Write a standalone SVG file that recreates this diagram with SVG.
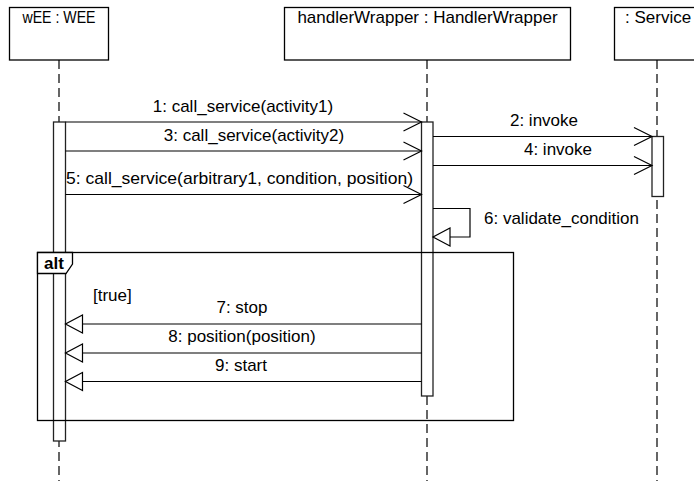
<svg xmlns="http://www.w3.org/2000/svg" width="694" height="481" viewBox="0 0 694 481">
<style>
.box{fill:#fff;stroke:#000;stroke-width:1.3}
.life{stroke:#000;stroke-width:1.2;stroke-dasharray:9 5;fill:none}
.act{fill:#fff;stroke:#222;stroke-width:1.3}
.msg{stroke:#000;stroke-width:1.2;fill:none}
.call{marker-end:url(#open)}
.ret{marker-end:url(#tri)}
text{font-family:"Liberation Sans",Arial,sans-serif;font-size:17px;fill:#000}
.c{text-anchor:middle}
.b{font-weight:bold}
</style>
<defs>
<marker id="open" markerUnits="userSpaceOnUse" markerWidth="20" markerHeight="20" refX="18" refY="9" orient="auto" overflow="visible">
<path d="M0,0 L18,9 L0,18" fill="none" stroke="#000" stroke-width="1.2"/>
</marker>
<marker id="tri" markerUnits="userSpaceOnUse" markerWidth="20" markerHeight="20" refX="17" refY="9" orient="auto" overflow="visible">
<polygon points="0,0 17,9 0,18" fill="#fff" stroke="#000" stroke-width="1.2"/>
</marker>
</defs>

<g id="wEE">
<rect class="box" x="9.5" y="7.5" width="99" height="52.5"/>
<text x="59" y="23" class="c" textLength="73" lengthAdjust="spacingAndGlyphs">wEE : WEE</text>
<line class="life" x1="59" y1="60" x2="59" y2="481"/>
<rect class="act" x="53.5" y="122" width="12" height="319"/>
</g>

<g id="handlerWrapper">
<rect class="box" x="284.5" y="7.5" width="286" height="52.5"/>
<text x="427.5" y="23" class="c">handlerWrapper : HandlerWrapper</text>
<line class="life" x1="427" y1="60" x2="427" y2="481"/>
<rect class="act" x="421.5" y="122" width="11.5" height="274"/>
</g>

<g id="Service">
<rect class="box" x="614.5" y="7.5" width="90" height="52.5"/>
<text x="625" y="23">: Service</text>
<line class="life" x1="657" y1="60" x2="657" y2="481"/>
<rect class="act" x="652" y="136.5" width="11.5" height="60"/>
</g>

<g id="connectors">
<line class="msg call" x1="65.5" y1="122" x2="421.5" y2="122"/>
<text x="243" y="112" class="c">1: call_service(activity1)</text>
<line class="msg call" x1="65.5" y1="151" x2="421.5" y2="151"/>
<text x="254" y="140.5" class="c">3: call_service(activity2)</text>
<line class="msg call" x1="65.5" y1="194.5" x2="421.5" y2="194.5"/>
<text x="66" y="183.5" textLength="347" lengthAdjust="spacingAndGlyphs">5: call_service(arbitrary1, condition, position)</text>
<line class="msg call" x1="433" y1="136.5" x2="652" y2="136.5"/>
<text x="544" y="126" class="c">2: invoke</text>
<line class="msg call" x1="433" y1="165.5" x2="652" y2="165.5"/>
<text x="558" y="154.5" class="c">4: invoke</text>
<path class="msg ret" d="M433,208.5 H470 V237 H433"/>
<text x="484" y="224">6: validate_condition</text>
<line class="msg ret" x1="421.5" y1="324" x2="65.5" y2="324"/>
<text x="242" y="313" class="c">7: stop</text>
<line class="msg ret" x1="421.5" y1="353" x2="65.5" y2="353"/>
<text x="242" y="342" class="c">8: position(position)</text>
<line class="msg ret" x1="421.5" y1="381.5" x2="65.5" y2="381.5"/>
<text x="241" y="371" class="c">9: start</text>
</g>

<g id="alt">
<rect x="37.5" y="252.5" width="476" height="168" fill="none" stroke="#000" stroke-width="1.3"/>
<path d="M37.5,252.5 H72.5 V264 L66,273.5 H37.5 Z" fill="#fff" stroke="#000" stroke-width="1.3"/>
<text x="44" y="269" class="b">alt</text>
<text x="93" y="301">[true]</text>
</g>
</svg>
